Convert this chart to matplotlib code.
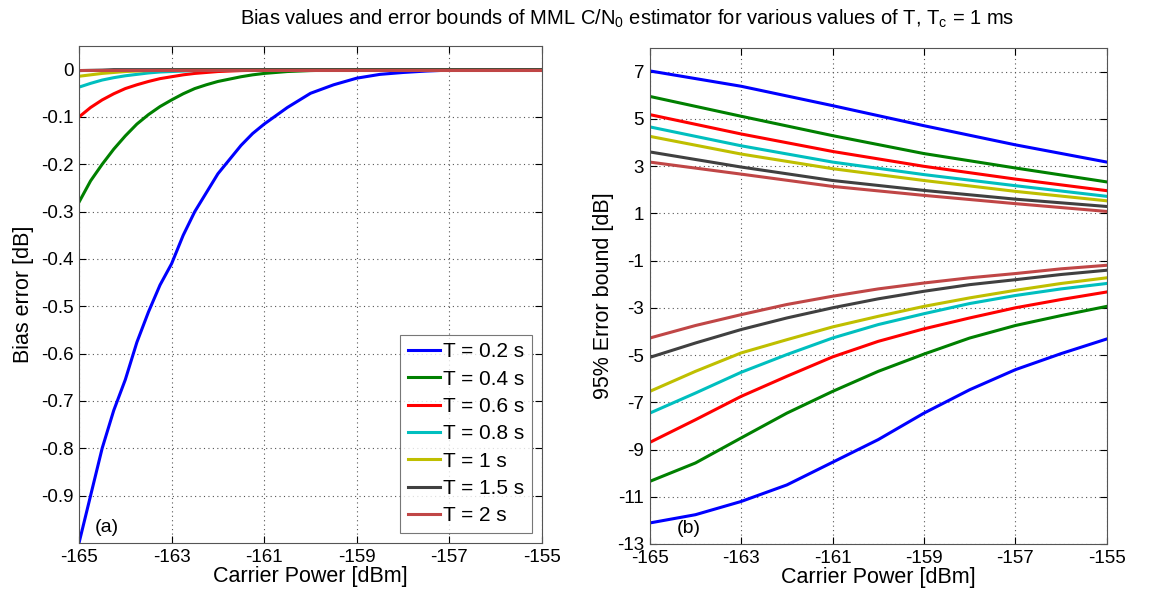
import matplotlib.pyplot as plt
import numpy as np

plt.rcParams['font.family'] = ['Liberation Sans', 'DejaVu Sans']
plt.rcParams['axes.unicode_minus'] = False

labels = ['T = 0.2 s', 'T = 0.4 s', 'T = 0.6 s', 'T = 0.8 s', 'T = 1 s', 'T = 1.5 s', 'T = 2 s']
colors = ['#0000ff', '#008000', '#ff0000', '#00bfbf', '#bfbf00', '#404040', '#c04646']

# bias error (left)
x_bias = [-165, -164.75, -164.5, -164.25, -164, -163.75, -163.5, -163.25, -163,
          -162.75, -162.5, -162.25, -162, -161.75, -161.5, -161.25, -161,
          -160.5, -160, -159.5, -159, -158.5, -158, -157.5, -157, -156, -155]
bias = [
    [-1.0, -0.90, -0.80, -0.72, -0.655, -0.576, -0.512, -0.455, -0.41,
     -0.35, -0.30, -0.26, -0.22, -0.19, -0.16, -0.135, -0.115,
     -0.08, -0.05, -0.032, -0.018, -0.01, -0.006, -0.003, -0.001, 0, 0],
    [-0.28, -0.235, -0.20, -0.168, -0.14, -0.115, -0.095, -0.078, -0.064,
     -0.051, -0.04, -0.032, -0.025, -0.02, -0.015, -0.011, -0.008,
     -0.004, -0.002, -0.001, 0, 0, 0, 0, 0, 0, 0],
    [-0.10, -0.08, -0.064, -0.051, -0.04, -0.032, -0.025, -0.019, -0.015,
     -0.011, -0.008, -0.006, -0.004, -0.003, -0.002, -0.0015, -0.001,
     0, 0, 0, 0, 0, 0, 0, 0, 0, 0],
    [-0.037, -0.029, -0.022, -0.017, -0.013, -0.01, -0.007, -0.005, -0.004,
     -0.003, -0.002, -0.001, 0, 0, 0, 0, 0,
     0, 0, 0, 0, 0, 0, 0, 0, 0, 0],
    [-0.014, -0.011, -0.008, -0.006, -0.004, -0.003, -0.002, -0.001, -0.001,
     0, 0, 0, 0, 0, 0, 0, 0,
     0, 0, 0, 0, 0, 0, 0, 0, 0, 0],
    [-0.002, -0.0015, -0.001, 0, 0, 0, 0, 0, 0,
     0, 0, 0, 0, 0, 0, 0, 0,
     0, 0, 0, 0, 0, 0, 0, 0, 0, 0],
    [0, 0, 0, 0, 0, 0, 0, 0, 0,
     0, 0, 0, 0, 0, 0, 0, 0,
     0, 0, 0, 0, 0, 0, 0, 0, 0, 0],
]

# 95% error bounds (right)
x_up = [-165, -163, -161, -159, -157, -155]
upper = [
    [7.03, 6.38, 5.56, 4.71, 3.90, 3.17],
    [5.95, 5.11, 4.29, 3.53, 2.92, 2.33],
    [5.18, 4.36, 3.62, 2.99, 2.45, 1.96],
    [4.66, 3.86, 3.17, 2.64, 2.17, 1.72],
    [4.26, 3.51, 2.89, 2.39, 1.93, 1.53],
    [3.60, 2.96, 2.39, 1.97, 1.60, 1.29],
    [3.17, 2.66, 2.14, 1.76, 1.41, 1.08],
]
x_low = [-165, -164, -163, -162, -161, -160, -159, -158, -157, -156, -155]
lower = [
    [-12.11, -11.76, -11.20, -10.50, -9.54, -8.58, -7.46, -6.47, -5.62, -4.94, -4.32],
    [-10.35, -9.57, -8.51, -7.46, -6.54, -5.69, -4.96, -4.28, -3.75, -3.33, -2.94],
    [-8.70, -7.74, -6.75, -5.90, -5.08, -4.42, -3.89, -3.43, -3.00, -2.65, -2.33],
    [-7.46, -6.61, -5.73, -4.98, -4.28, -3.71, -3.25, -2.82, -2.48, -2.20, -1.97],
    [-6.54, -5.69, -4.91, -4.35, -3.81, -3.36, -2.94, -2.58, -2.26, -1.97, -1.73],
    [-5.10, -4.49, -3.92, -3.43, -3.00, -2.62, -2.30, -2.02, -1.81, -1.59, -1.41],
    [-4.28, -3.75, -3.29, -2.86, -2.51, -2.20, -1.95, -1.73, -1.55, -1.35, -1.20],
]

fig = plt.figure(figsize=(11.5, 5.97), dpi=100)
ax1 = fig.add_axes([0.0687, 0.0905, 0.4026, 0.8325])
ax2 = fig.add_axes([0.565, 0.0888, 0.3974, 0.8308])

lw = 2.2
for i in range(len(labels)):
    ax1.plot(x_bias, bias[i], color=colors[i], lw=lw, label=labels[i])
    ax2.plot(x_up, upper[i], color=colors[i], lw=lw)
    ax2.plot(x_low, lower[i], color=colors[i], lw=lw)

ax1.set_xlim(-165, -155)
ax1.set_ylim(-1.0, 0.05)
ax1.set_xticks(np.arange(-165, -154, 2))
ax1.set_yticks(np.arange(-0.9, 0.01, 0.1))
ax1.set_yticklabels(['-0.9', '-0.8', '-0.7', '-0.6', '-0.5', '-0.4', '-0.3', '-0.2', '-0.1', '0'])
ax1.set_xlabel('Carrier Power [dBm]', fontsize=15.5, labelpad=0)
ax1.set_ylabel('Bias error [dB]', fontsize=15.5, labelpad=5)
ax1.text(0.035, 0.022, '(a)', transform=ax1.transAxes, fontsize=14)
leg = ax1.legend(loc='lower right', fontsize=15, handlelength=1.55, handletextpad=0.15,
                 labelspacing=0.4, fancybox=False, edgecolor='#555555',
                 borderaxespad=0.5, borderpad=0.35)
leg.get_frame().set_linewidth(0.8)

ax2.set_xlim(-165, -155)
ax2.set_ylim(-13, 8)
ax2.set_xticks(np.arange(-165, -154, 2))
ax2.set_yticks(np.arange(-13, 8, 2))
ax2.set_xlabel('Carrier Power [dBm]', fontsize=15.5, labelpad=0)
ax2.set_ylabel('95% Error bound [dB]', fontsize=15.5, labelpad=2)
ax2.text(0.06, 0.022, '(b)', transform=ax2.transAxes, fontsize=14)

for ax in (ax1, ax2):
    ax.grid(True, linestyle=(0, (1, 3)), color='#555555', linewidth=0.8)
    ax.tick_params(direction='in', top=True, right=True, labelsize=13.5, length=5, width=0.8, pad=4)
    for s in ax.spines.values():
        s.set_color('#555555')
        s.set_linewidth(0.8)

fig.text(0.545, 0.968,
         'Bias values and error bounds of MML C/N$_\\mathregular{0}$ estimator for various values of T, T$_\\mathregular{c}$ = 1 ms',
         ha='center', va='center', fontsize=14.5)

fig.savefig('out.png', dpi=100)
